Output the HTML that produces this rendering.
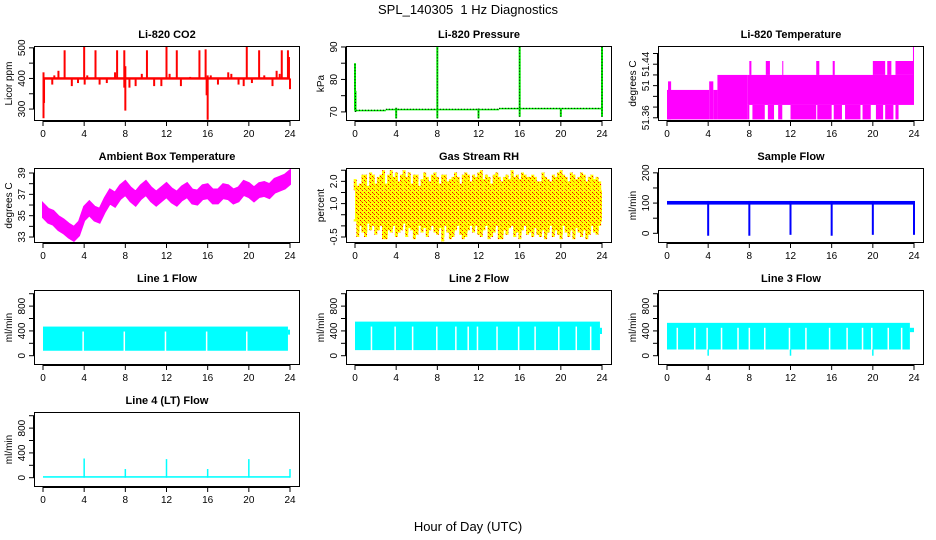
<!DOCTYPE html>
<html><head><meta charset="utf-8"><style>
html,body{margin:0;padding:0;background:#fff}
svg{display:block;font-family:"Liberation Sans",sans-serif}
</style></head><body>
<svg id="chart" width="936" height="540" viewBox="0 0 936 540" xmlns="http://www.w3.org/2000/svg">
<defs>
<pattern id="rhpat" width="4" height="4" patternUnits="userSpaceOnUse">
<rect width="4" height="4" fill="#ffff00"/><rect x="0" y="0" width="1" height="1" fill="#ff0000"/><rect x="2" y="2" width="1" height="1" fill="#ff0000"/><rect x="1" y="1" width="1" height="1" fill="#e08000"/>
</pattern>
</defs>
<text x="468" y="14" text-anchor="middle" font-size="13">SPL_140305&#160; 1 Hz Diagnostics</text>
<text x="468" y="531" text-anchor="middle" font-size="13">Hour of Day (UTC)</text>
</svg>
<script>
// ---------- data ----------
const xTicks = [0,4,8,12,16,20,24];
// CO2
const co2SpikeT  = [0.05,0.1,2.1,4.0,4.05,5.1,7.2,7.9,8.0,10.1,12.0,13.0,15.2,15.8,15.9,16.0,19.8,21.0,23.2,23.8,23.9,24.0,0.9,1.1,1.5,2.8,3.4,4.3,5.5,6.2,7.0,8.4,9.0,9.6,10.8,11.5,12.3,13.4,14.3,16.3,17.0,18.0,18.3,19.0,19.5,20.3,21.5,22.3,22.7,23.0];
const co2SpikeLo = [270,320,400,400,380,400,400,370,295,400,400,400,400,400,345,265,400,400,400,400,400,365,380,400,400,375,385,400,380,385,400,370,375,400,375,375,400,375,400,400,380,400,400,380,375,385,400,375,400,400];
const co2SpikeHi = [420,400,492,505,400,492,492,492,440,492,505,492,492,495,400,410,505,492,492,492,470,400,400,410,425,400,400,410,400,400,420,400,400,415,400,400,415,400,405,410,400,420,415,400,400,400,410,400,425,415];
const co2Base = [396,404];
// Pressure
const presSegStart = [0.1,3,14];
const presSegEnd   = [3,14,24];
const presLevel    = [70.5,70.8,71.1];
const presSpikeT  = [0,0.05,8,16,24,4,12,20];
const presSpikeLo = [70.5,70,68,68.5,68.5,68,68,68.5];
const presSpikeHi = [85,76.5,90,90,90,71.3,71,71.2];
// Li-820 temperature
const tempSegStart = [0,0.1,4.1,4.5,4.9,7.8,7.8,8.3,9.8,10.8,12.0,14.6,16.2,17.3,19.0,20.3,21.2,22.2,8.0,9.6,11.2,14.5,16.1,20.0,21.4,22.2,23.9];
const tempSegEnd   = [4.1,0.4,4.5,4.9,7.8,24,8.0,9.5,10.4,11.2,14.5,16.0,17.0,18.8,19.8,21.0,22.0,22.5,8.2,10.0,11.3,14.8,16.3,21.2,21.8,24.0,24.0];
const tempSegLo    = [51.357,51.357,51.357,51.357,51.357,51.384,51.357,51.357,51.357,51.357,51.357,51.357,51.357,51.357,51.357,51.357,51.357,51.357,51.44,51.44,51.44,51.44,51.44,51.44,51.44,51.44,51.44];
const tempSegHi    = [51.412,51.428,51.428,51.412,51.44,51.44,51.384,51.384,51.384,51.384,51.384,51.384,51.384,51.384,51.384,51.384,51.384,51.384,51.466,51.466,51.466,51.466,51.466,51.466,51.466,51.466,51.493];
// Ambient box temperature (centre per half hour)
const ambT = [0,0.5,1,1.5,2,2.5,3,3.5,4,4.5,5,5.5,6,6.5,7,7.5,8,8.5,9,9.5,10,10.5,11,11.5,12,12.5,13,13.5,14,14.5,15,15.5,16,16.5,17,17.5,18,18.5,19,19.5,20,20.5,21,21.5,22,22.5,23,23.5,24];
const ambMid = [35.5,35,34.8,34.3,34,33.6,33.3,33.8,35.2,35.7,35.2,35.0,36.0,36.8,36.5,37.2,37.6,37.0,36.6,37.2,37.6,37.0,36.6,37.0,37.4,36.9,36.6,37.1,37.4,36.8,36.7,37.2,37.3,36.8,36.8,37.3,37.2,36.8,37.0,37.6,37.4,37.0,37.4,37.5,37.3,37.8,38.0,38.2,38.6];
const ambHalfWidth = 0.65;
// Gas stream RH (per quarter hour)
const rhHi = [2.1,1.8,1.9,2.3,2.3,1.8,2.4,2.3,1.9,2.2,2.3,2.5,1.9,2.3,2.5,2.2,2.4,2.0,2.3,2.5,2.2,2.4,1.9,2.3,2.3,1.8,2.1,2.4,2.2,2.0,2.3,2.4,2.2,1.9,2.3,2.3,2.0,2.1,2.2,2.4,2.2,1.9,2.3,2.4,2.3,2.0,2.3,2.2,2.4,2.5,2.1,2.3,2.2,1.9,2.3,2.4,2.2,2.0,2.2,2.3,2.1,2.5,2.2,2.3,2.1,2.4,2.3,2.2,2.2,2.3,2.2,2.0,2.0,2.4,2.2,2.1,2.0,2.3,2.2,2.4,2.5,2.3,2.2,2.0,2.4,2.3,2.1,2.2,2.4,2.3,2.0,2.2,2.3,2.1,2.2,2.0];
const rhLo = [0.3,-0.5,0.0,-0.3,-0.5,0.1,-0.2,0.0,-0.4,-0.2,0.0,-0.6,-0.6,-0.2,-0.3,0.0,-0.5,-0.3,-0.2,0.1,-0.5,-0.1,-0.2,-0.6,-0.4,0.0,-0.3,-0.1,-0.5,-0.2,0.0,-0.3,-0.4,-0.1,-0.7,0.0,-0.3,-0.6,-0.5,-0.2,0.0,-0.4,-0.6,-0.5,-0.2,0.0,-0.3,0.0,-0.4,-0.5,-0.2,0.0,-0.6,-0.5,-0.3,0.0,-0.6,-0.6,-0.2,-0.4,-0.1,0.0,-0.5,-0.3,-0.6,-0.2,0.0,-0.4,-0.3,-0.5,-0.1,-0.4,-0.5,-0.2,-0.6,-0.3,0.0,-0.5,-0.2,-0.4,-0.6,0.0,-0.3,-0.5,-0.2,-0.6,-0.1,-0.3,-0.5,-0.2,-0.6,-0.4,0.0,-0.3,-0.4,0.0];
const rhCoreLo = 0.2, rhCoreHi = 1.6;
// Sample flow
const sfBase = [95,107];
const sfDipT = [4,8,12,16,20,24];
const sfDipLo = [-8,-8,-5,-8,-5,-5];
// Line flows
const l1Band = [80,470];
const l1Gaps = [3.9,7.9,11.9,15.9,19.8];
const l2Band = [90,550];
const l2Gaps = [1.6,3.9,5.6,7.95,9.8,11.0,11.9,13.8,15.9,17.5,19.8,21.5,22.9];
const l3Band = [100,530];
const l3Gaps = [1.0,2.7,3.9,5.3,6.9,8.0,9.5,11.9,13.5,15.8,17.5,19.0,19.9,21.5,22.8];
const l3DipT = [4,12,20];
const l4Base = [0,25];
const l4SpikeT = [4,8,12,16,20,24];
const l4SpikeV = [310,140,300,140,300,140];

// ---------- drawing helpers ----------
const NS = "http://www.w3.org/2000/svg";
const svg = document.getElementById('chart');
function mk(tag, attrs, parent){ const e=document.createElementNS(NS,tag); for(const k in attrs) e.setAttribute(k,attrs[k]); (parent||svg).appendChild(e); return e; }
const colL=[34,346,658], rowT=[46,168,290,412], W=266, H=75;
let clipId=0;
function panel(col,row,title,ylab,ymin,ymax,yTicks,yLabels,name){
  const L=colL[col], T=rowT[row], B=T+H;
  const g=mk('g',{});
  
  
  const sx=t=>L+9+t*(247/24);
  const sy=v=>B-(v-ymin)/(ymax-ymin)*H;
  const t=mk('text',{x:L+W/2,y:T-8,'text-anchor':'middle','font-size':'11','font-weight':'bold'},g); t.textContent=title;
  
  
  const yl=mk('text',{x:0,y:0,'text-anchor':'middle','font-size':'10',transform:`translate(${L-22},${T+H/2}) rotate(-90)`},g); yl.textContent=ylab;
  
  
  const cid='c'+(clipId++);
  const cp=mk('clipPath',{id:cid},g); mk('rect',{x:L,y:T,width:W,height:H},cp);
  const plot=mk('g',{'clip-path':`url(#${cid})`},g);
  const ax=mk('g',{stroke:'#000','stroke-width':'1',fill:'none'},g);
  mk('line',{x1:sx(0),x2:sx(24),y1:B+0.5,y2:B+0.5},ax);
  xTicks.forEach(v=>{ mk('line',{x1:sx(v),x2:sx(v),y1:B,y2:B+5},ax);
    const tx=mk('text',{x:sx(v),y:B+16,'text-anchor':'middle','font-size':'10',stroke:'none',fill:'#000'},g); tx.textContent=v;
    
     });
  mk('line',{x1:L-0.5,x2:L-0.5,y1:sy(yTicks[0]),y2:sy(yTicks[yTicks.length-1])},ax);
  yTicks.forEach((v,i)=>{ mk('line',{x1:L-5,x2:L,y1:sy(v),y2:sy(v)},ax);
    if(yLabels[i]!==''){ const ty=mk('text',{x:0,y:0,'text-anchor':'middle','font-size':'10',transform:`translate(${L-9},${sy(v)}) rotate(-90)`},g); ty.textContent=yLabels[i];
    
     } });
  mk('rect',{x:L+0.5,y:T+0.5,width:W-1,height:H-1,fill:'none',stroke:'#000'},g);
  return {sx,sy,plot};
}
function vline(p,t,lo,hi,color,w,nm){ const e=mk('line',{x1:p.sx(t),x2:p.sx(t),y1:p.sy(lo),y2:p.sy(hi),stroke:color,'stroke-width':w||2},p.plot);
  
   return e; }
function band(p,t0,t1,lo,hi,fill,nm){ const x0=p.sx(t0),x1=p.sx(t1),y0=p.sy(hi),y1=p.sy(lo);
  const e=mk('rect',{x:Math.min(x0,x1),y:Math.min(y0,y1),width:Math.max(1,Math.abs(x1-x0)),height:Math.max(1.5,Math.abs(y1-y0)),fill:fill},p.plot);
  
   return e; }

// ---------- panels ----------
const RED='#ff0000', GRN='#00ee00', MAG='#ff00ff', BLU='#0000ff', CY='#00ffff';
{ const p=panel(0,0,'Li-820 CO2','Licor ppm',261,506,[300,350,400,450,500],['300','','400','','500'],'co2');
  band(p,0,24,co2Base[0],co2Base[1],RED,'co2-baseline');
  co2SpikeT.forEach((t,i)=>vline(p,t,co2SpikeLo[i],co2SpikeHi[i],RED,2,'co2-spike')); }
{ const p=panel(1,0,'Li-820 Pressure','kPa',67.2,90.3,[70,75,80,85,90],['70','','80','','90'],'pressure');
  presSegStart.forEach((s,i)=>{ band(p,s,presSegEnd[i],presLevel[i]-0.15,presLevel[i]+0.15,GRN,'pressure-level');
    const d=mk('line',{x1:p.sx(s),x2:p.sx(presSegEnd[i]),y1:p.sy(presLevel[i]),y2:p.sy(presLevel[i]),stroke:'#000','stroke-width':1,'stroke-dasharray':'1,2'},p.plot);
    
     });
  presSpikeT.forEach((t,i)=>{ vline(p,t,presSpikeLo[i],presSpikeHi[i],GRN,2,'pressure-spike');
    const d=vline(p,t,presSpikeLo[i],presSpikeHi[i],'#000',1,'pressure-spike-dots'); d.setAttribute('stroke-dasharray','1,2'); }); }
{ const p=panel(2,0,'Li-820 Temperature','degrees C',51.354,51.494,[51.36,51.38,51.40,51.42,51.44,51.46,51.48],['51.36','','','51','','51.44',''],'li820-temp');
  tempSegStart.forEach((s,i)=>band(p,s,tempSegEnd[i],tempSegLo[i],tempSegHi[i],MAG,'li820-temp-band')); }
{ const p=panel(0,1,'Ambient Box Temperature','degrees C',32.44,39.47,[33,34,35,36,37,38,39],['33','','35','','37','','39'],'ambient-temp');
  const up=ambT.map((t,i)=>`${p.sx(t)},${p.sy(ambMid[i]+ambHalfWidth)}`);
  const dn=ambT.map((t,i)=>`${p.sx(t)},${p.sy(ambMid[i]-ambHalfWidth)}`).reverse();
  const e=mk('polygon',{points:up.concat(dn).join(' '),fill:MAG,stroke:MAG,'stroke-width':2},p.plot);
  
   }
{ const p=panel(1,1,'Gas Stream RH','percent',-0.77,2.6,[-0.5,0,0.5,1,1.5,2,2.5],['-0.5','','','1.0','','2.0',''],'rh');
  band(p,0,24,rhCoreLo,rhCoreHi,'url(#rhpat)','rh-core-band');
  rhHi.forEach((h,i)=>{ const t=i*0.25+0.02; vline(p,t,rhCoreHi,h,'url(#rhpat)',3,'rh-upper-spike'); vline(p,t+0.1,rhCoreHi,h-0.2,'#ffff00',1,'rh-upper-spike');
    vline(p,t,rhLo[i],rhCoreLo,'url(#rhpat)',3,'rh-lower-spike'); vline(p,t+0.13,rhLo[i]+0.2,rhCoreLo,'#ffff00',1,'rh-lower-spike'); }); }
{ const p=panel(2,1,'Sample Flow','ml/min',-32,216,[0,50,100,150,200],['0','','100','','200'],'sample-flow');
  band(p,0,24,sfBase[0],sfBase[1],BLU,'sample-flow-line');
  sfDipT.forEach((t,i)=>vline(p,t,sfDipLo[i],sfBase[1],BLU,2,'sample-flow-dip')); }
const flowTicks=[0,200,400,600,800,1000], flowLabels=['0','','400','','800',''];
function flowPanel(col,row,title,name,bandv,gaps,endLo,endHi,tEnd){
  const p=panel(col,row,title,'ml/min',-150,1060,flowTicks,flowLabels,name);
  band(p,0,tEnd,bandv[0],bandv[1],CY,name+'-band');
  band(p,tEnd,24,endLo,endHi,CY,name+'-band-end');
  gaps.forEach(t=>vline(p,t,bandv[0]-20,bandv[1]-80,'#ffffff',1.5,name+'-gap'));
  return p;
}
flowPanel(0,2,'Line 1 Flow','line1-flow',l1Band,l1Gaps,340,420,23.8);
flowPanel(1,2,'Line 2 Flow','line2-flow',l2Band,l2Gaps,350,450,23.8);
{ const p=flowPanel(2,2,'Line 3 Flow','line3-flow',l3Band,l3Gaps,380,450,23.6);
  l3DipT.forEach(t=>vline(p,t,0,l3Band[0],CY,1.5,'line3-flow-dip')); }
{ const p=panel(0,3,'Line 4 (LT) Flow','ml/min',-150,1060,flowTicks,flowLabels,'line4-flow');
  band(p,0,24,l4Base[0],l4Base[1],CY,'line4-flow-base');
  l4SpikeT.forEach((t,i)=>vline(p,t,0,l4SpikeV[i],CY,1.5,'line4-flow-spike')); }
</script>
</body></html>
